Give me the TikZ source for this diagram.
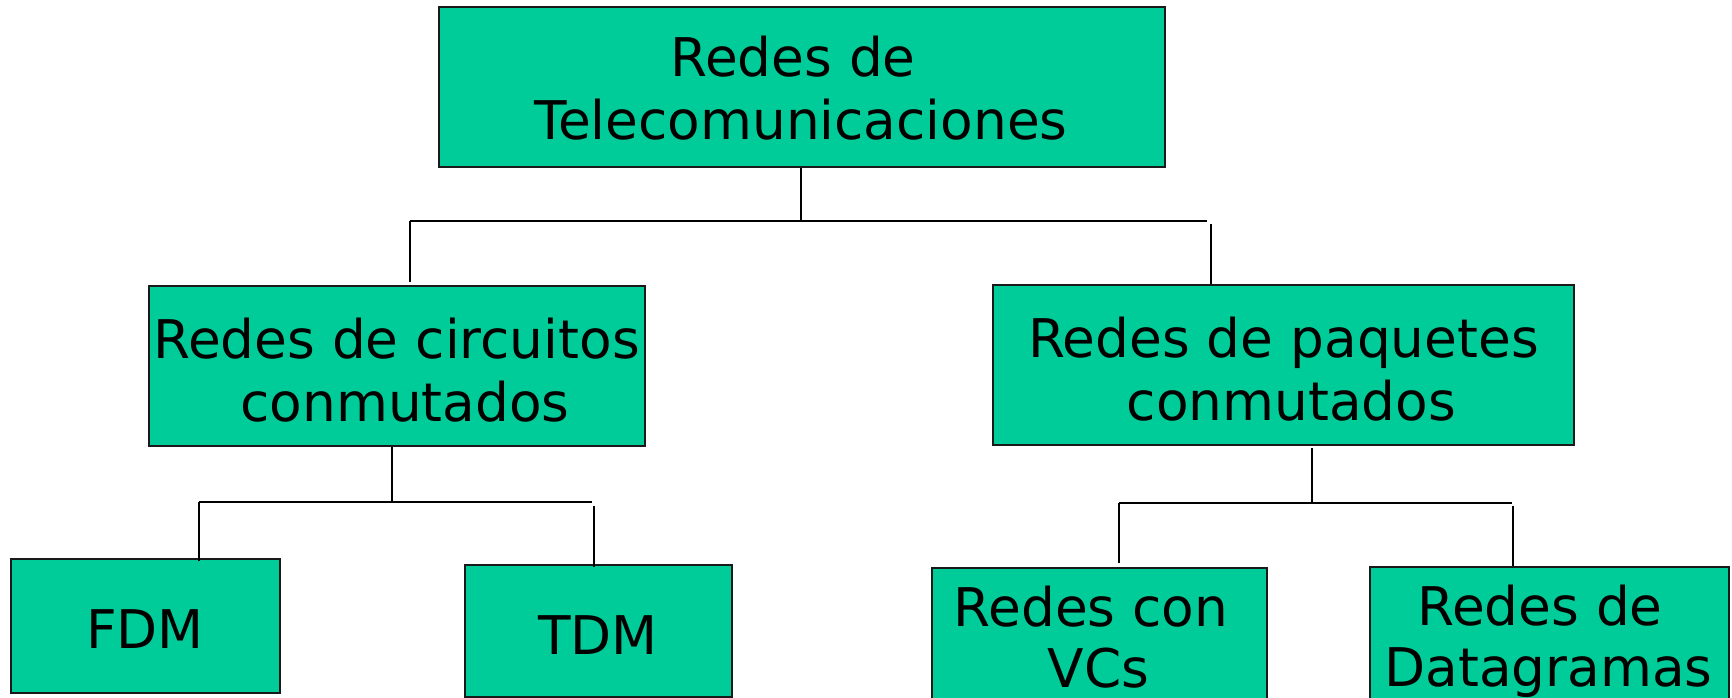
\documentclass[tikz,border=0pt]{standalone}
\usepackage{fontspec}
\setmainfont{DejaVu Sans}
\definecolor{boxgreen}{RGB}{0,204,153}
\begin{document}
\begin{tikzpicture}[x=1pt,y=-1pt,
  box/.style={draw=black!90, line width=2pt, fill=boxgreen, rectangle, inner sep=0pt},
  lbl/.style={anchor=base, inner sep=0pt, font=\fontsize{53.3}{63}\selectfont},
  wire/.style={draw=black, line width=2pt}]
\useasboundingbox (0,0) rectangle (1732,698);
\clip (0,0) rectangle (1732,698);
% boxes
\node[box, minimum width=726.8pt, minimum height=160.2pt] (top) at (801.9,86.7) {};
\node[box, minimum width=496pt, minimum height=160pt] (circ) at (397,366) {};
\node[box, minimum width=581pt, minimum height=160pt] (paq) at (1283.5,365) {};
\node[box, minimum width=268.5pt, minimum height=133.6pt] (fdm) at (145.25,625.8) {};
\node[box, minimum width=267pt, minimum height=132.5pt] (tdm) at (598.5,630.75) {};
\node[box, minimum width=335pt, minimum height=152pt] (vcs) at (1099.5,644) {};
\node[box, minimum width=359pt, minimum height=153.4pt] (dat) at (1549.5,643.3) {};
% labels
\node[lbl] (top1) at (793,77) {Redes de};
\node[lbl] (top2) at (801,140) {Telecomunicaciones};
\node[lbl] (circ1) at (396.6,358) {Redes de circuitos};
\node[lbl] (circ2) at (405,421) {conmutados};
\node[lbl] (paq1) at (1283.6,357) {Redes de paquetes};
\node[lbl] (paq2) at (1291.4,420) {conmutados};
\node[lbl] (fdmt) at (145,648.5) {FDM};
\node[lbl] (tdmt) at (598,654) {TDM};
\node[lbl] (vcs1) at (1091,626) {Redes con};
\node[lbl] (vcs2) at (1098.6,687) {VCs};
\node[lbl] (dat1) at (1540,625) {Redes de};
\node[lbl] (dat2) at (1548.6,686) {Datagramas};
% connector coordinates
\coordinate (j1) at (800.8,221);
\coordinate (h1L) at (410,221);
\coordinate (h1R) at (1207,221);
\coordinate (d1L) at (410,282);
\coordinate (d1R) at (1210.6,224);
\coordinate (j2) at (392,501.5);
\coordinate (h2L) at (199,501.5);
\coordinate (h2R) at (592,501.5);
\coordinate (d2R) at (594,506);
\coordinate (j3) at (1312,502.6);
\coordinate (h3L) at (1119,502.6);
\coordinate (h3R) at (1512,502.6);
\coordinate (d3L) at (1119,563);
\coordinate (d3R) at (1513,506);
% connectors
\draw[wire] (top.south -| j1) -- (j1);
\draw[wire] (h1L) -- (h1R);
\draw[wire] (h1L) -- (d1L);
\draw[wire] (d1R) -- (paq.north -| d1R);
\draw[wire] (circ.south -| j2) -- (j2);
\draw[wire] (h2L) -- (h2R);
\draw[wire] (h2L) -- ([yshift=-3pt]fdm.north -| h2L);
\draw[wire] (d2R) -- ([yshift=-3.5pt]tdm.north -| d2R);
\draw[wire] ([yshift=-2pt]paq.south -| j3) -- (j3);
\draw[wire] (h3L) -- (h3R);
\draw[wire] (h3L) -- (d3L);
\draw[wire] (d3R) -- (dat.north -| d3R);
\end{tikzpicture}
\end{document}
